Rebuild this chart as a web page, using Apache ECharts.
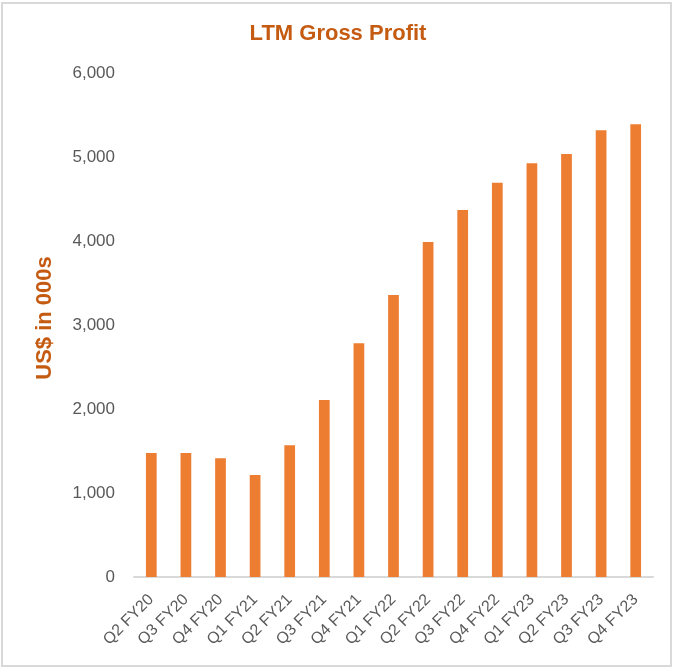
<!DOCTYPE html>
<html>
<head>
<meta charset="utf-8">
<script src="https://cdn.jsdelivr.net/npm/echarts@6/dist/echarts.min.js"></script>
<style>
html,body{margin:0;padding:0;background:#fff;}
#frame{position:absolute;left:1px;top:2px;width:671px;height:665px;border:2px solid #D9D9D9;box-sizing:border-box;}
#chart{position:absolute;left:0;top:0;width:676px;height:671px;}
</style>
</head>
<body>
<div id="frame"></div>
<div id="chart"></div>
<script>
const categories = ["Q2 FY20","Q3 FY20","Q4 FY20","Q1 FY21","Q2 FY21","Q3 FY21","Q4 FY21","Q1 FY22","Q2 FY22","Q3 FY22","Q4 FY22","Q1 FY23","Q2 FY23","Q3 FY23","Q4 FY23"];
const grossProfit = [1476,1476,1413,1214,1568,2107,2782,3357,3988,4369,4694,4925,5036,5318,5389];
const yTicks = {min:0, max:6000, interval:1000};

const chart = echarts.init(document.getElementById('chart'), null, {renderer:'canvas'});
chart.setOption({
  animation:false,
  title:{
    text:'LTM Gross Profit', left:'center', top:18,
    textStyle:{fontFamily:'Liberation Sans, Arial, sans-serif', fontWeight:'bold', fontSize:22, color:'#C55A11'}
  },
  grid:{left:134, right:23, top:73, bottom:94, containLabel:false},
  xAxis:{
    type:'category', data:categories,
    axisLine:{lineStyle:{color:'#D9D9D9', width:2}},
    axisTick:{show:false},
    axisLabel:{rotate:45, fontSize:16, color:'#595959', fontFamily:'Liberation Sans, Arial, sans-serif', margin:20, interval:0}
  },
  yAxis:{
    type:'value', min:yTicks.min, max:yTicks.max, interval:yTicks.interval,
    name:'US$ in 000s', nameLocation:'middle', nameGap:78, nameRotate:90,
    nameTextStyle:{fontFamily:'Liberation Sans, Arial, sans-serif', fontWeight:'bold', fontSize:22, color:'#C55A11', padding:[0,0,0,14]},
    axisLine:{show:false}, axisTick:{show:false}, splitLine:{show:false},
    axisLabel:{fontSize:17, color:'#595959', fontFamily:'Liberation Sans, Arial, sans-serif', margin:19,
      formatter:v=>v.toLocaleString('en-US')}
  },
  series:[{
    type:'bar', data:grossProfit, barWidth:'31%',
    itemStyle:{color:'#ED7D31'}
  }]
});
</script>
</body>
</html>
